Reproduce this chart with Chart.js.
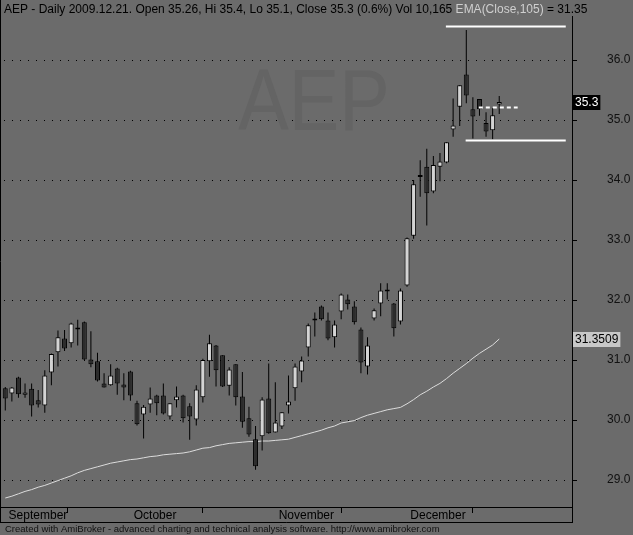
<!DOCTYPE html>
<html>
<head>
<meta charset="utf-8">
<script src="https://cdn.jsdelivr.net/npm/chart.js@4.4.1/dist/chart.umd.min.js"></script>
<style>
  html, body { margin: 0; padding: 0; background: #6b6b6b; }
  canvas { display: block; }
</style>
</head>
<body>
<canvas id="chart" width="633" height="535"></canvas>
<script>
// AEP daily bars, 2009-09-03 .. 2009-12-21 (index = trading day)
const opens = [30.53,30.44,30.71,30.42,30.52,30.33,30.24,30.79,31.13,31.36,31.28,31.54,31.63,31.01,30.98,30.61,30.58,30.86,30.59,
  30.81,30.28,30.09,30.26,30.41,30.41,30.06,30.33,30.41,30.23,30.01,30.38,30.98,31.24,31.08,30.57,30.93,30.39,30.03,29.68,29.73,30.36,
  29.79,29.89,30.24,30.53,30.81,31.21,31.66,31.89,31.66,31.38,31.81,32.01,31.89,31.51,30.89,31.69,31.94,32.16,31.94,
  31.64,32.24,33.07,34.07,34.22,33.81,34.22,34.29,34.84,35.22,35.76,35.18,35.35,34.95,34.83,35.26]
const highs = [30.55,30.55,30.72,30.61,30.61,30.50,30.83,31.11,31.49,31.50,31.62,31.67,31.64,31.48,31.12,30.78,30.93,30.87,30.78,
  30.82,30.32,30.25,30.54,30.42,30.61,30.28,30.56,30.42,30.28,30.58,31.02,31.42,31.25,31.08,30.88,30.93,30.80,30.22,29.90,30.38,30.94,
  30.63,30.13,30.74,30.94,31.06,31.61,31.79,31.91,31.79,31.66,32.11,32.09,31.98,31.54,31.38,31.86,32.28,32.28,31.95,
  32.19,33.04,34.00,34.33,34.52,34.40,34.45,34.63,35.36,35.58,36.50,35.38,35.35,35.13,35.20,35.40]
const lows = [30.16,30.31,30.37,30.37,30.06,30.21,30.12,30.58,30.89,31.15,31.21,31.24,31.00,30.88,30.64,30.54,30.57,30.42,30.33,
  30.32,29.91,29.69,30.12,30.08,30.09,30.01,30.21,29.96,29.67,29.91,30.29,30.72,30.56,30.55,30.41,30.24,29.87,29.72,29.17,29.49,29.77,
  29.79,29.85,30.11,30.32,30.63,31.06,31.39,31.66,31.33,31.21,31.68,31.84,31.59,30.78,30.76,31.66,31.73,32.01,31.39,
  31.59,32.22,33.02,33.72,33.24,33.78,33.98,34.28,34.72,34.90,35.28,34.69,35.07,34.72,34.68,35.10]
const closes = [30.36,30.54,30.43,30.46,30.24,30.26,30.74,31.10,31.38,31.19,31.61,31.51,31.01,30.93,30.66,30.54,30.74,30.61,30.54,
  30.41,29.93,30.22,30.36,30.28,30.11,30.28,30.39,30.03,30.06,30.51,31.00,31.28,30.83,30.56,30.84,30.38,29.97,29.76,29.23,30.34,29.78,
  29.96,30.13,30.31,30.89,30.99,31.58,31.69,31.68,31.36,31.59,32.09,31.93,31.63,30.96,31.24,31.83,32.16,32.14,31.53,
  32.16,33.03,33.93,34.05,33.78,34.25,34.31,34.63,34.91,35.58,35.41,35.06,35.18,34.81,35.08,35.30]
// EMA(Close,105)
const ema = [28.70,28.73,28.77,28.81,28.84,28.88,28.91,28.95,28.99,29.03,29.07,29.12,29.16,29.19,29.22,29.25,29.28,29.30,29.32,
  29.34,29.35,29.37,29.39,29.40,29.42,29.43,29.44,29.45,29.47,29.50,29.53,29.54,29.57,29.59,29.61,29.62,29.63,29.64,29.64,29.65,29.65,
  29.66,29.67,29.68,29.71,29.74,29.77,29.80,29.83,29.87,29.90,29.95,29.97,29.99,30.04,30.08,30.11,30.14,30.17,30.19,
  30.21,30.27,30.34,30.42,30.48,30.55,30.61,30.69,30.78,30.86,30.94,31.03,31.11,31.18,31.25,31.35]

const monthStarts = [0, 19, 41, 61]
const monthNames = ['September', 'October', 'November', 'December']
const yTicks = [29, 30, 31, 32, 33, 34, 35, 36]

// drawn study lines: [x from, x to, price]
const highLine = [66.9, 85.1, 36.56]
const lowLine = [69.9, 85.1, 34.66]
const midLine = [71.9, 77.8, 35.21]

const titleText = 'AEP - Daily 2009.12.21. Open 35.26, Hi 35.4, Lo 35.1, Close 35.3 (0.6%) Vol 10,165 '
const emaName = 'EMA(Close,105)'
const emaValue = 31.3509
const footerText = 'Created with AmiBroker - advanced charting and technical analysis software. http://www.amibroker.com'

const FONT = '"Liberation Sans", Arial, sans-serif'
const BG = '#6b6b6b'
const LIGHT = '#d4d4d4', DARK = '#2c2c2c'

const lineSet = (l, dash) => ({
	type: 'line', order: 0,
	data: [{ x: l[0], y: l[2] }, { x: l[1], y: l[2] }],
	borderColor: '#ffffff', borderWidth: 2, borderDash: dash,
	pointRadius: 0
})

const decor = {
	id: 'decor',
	beforeDatasetsDraw(chart) {
		const ctx = chart.ctx
		ctx.save()
		ctx.font = '88px ' + FONT
		ctx.fillStyle = '#646464'
		ctx.textAlign = 'center'
		ctx.translate(314, 130)
		ctx.scale(0.86, 1)
		ctx.fillText('AEP', 0, 0)
		ctx.restore()
	},
	afterDraw(chart) {
		const ctx = chart.ctx
		const a = chart.chartArea
		const y = chart.scales.y
		ctx.save()
		// frame
		ctx.strokeStyle = '#000'
		ctx.lineWidth = 1
		ctx.beginPath()
		ctx.moveTo(0.5, 0); ctx.lineTo(0.5, 523)
		ctx.moveTo(0, 522.5); ctx.lineTo(572.5, 522.5)
		ctx.moveTo(572.5, a.bottom); ctx.lineTo(572.5, 523)
		ctx.stroke()
		// title (on its own strip, over the axis line)
		ctx.font = '12px ' + FONT
		ctx.textBaseline = 'alphabetic'
		const w1 = ctx.measureText(titleText).width
		const w2 = ctx.measureText(emaName).width
		const w3 = ctx.measureText(' = ' + emaValue.toFixed(2)).width
		ctx.fillStyle = BG
		ctx.fillRect(2, 0, w1 + w2 + w3 + 4, 16)
		ctx.fillStyle = '#000'
		ctx.fillText(titleText, 4, 13)
		ctx.fillStyle = '#cfcfcf'
		ctx.fillText(emaName, 4 + w1, 13)
		ctx.fillStyle = '#000'
		ctx.fillText(' = ' + emaValue.toFixed(2), 4 + w1 + w2, 13)
		// value boxes on the axis
		const box = (v, txt, bg, fg) => {
			const py = Math.round(y.getPixelForValue(v))
			const w = ctx.measureText(txt).width + 4
			ctx.fillStyle = bg
			ctx.fillRect(573, py - 7, w, 15)
			ctx.fillStyle = fg
			ctx.textBaseline = 'middle'
			ctx.fillText(txt, 575, py + 1)
		}
		box(closes[closes.length - 1], closes[closes.length - 1].toFixed(1), '#000', '#fff')
		box(emaValue, emaValue.toFixed(4), '#c8c8c8', '#000')
		// footer
		ctx.font = '9.5px ' + FONT
		ctx.textBaseline = 'alphabetic'
		ctx.fillStyle = '#111'
		ctx.fillText(footerText, 5, 532)
		ctx.restore()
	}
}

new Chart(document.getElementById('chart'), {
	type: 'bar',
	data: {
		datasets: [
			{
				type: 'line', order: 3,
				data: ema.map((v, i) => ({ x: i, y: v })),
				borderColor: '#dcdcdc', borderWidth: 1, pointRadius: 0
			},
			{
				order: 2, grouped: false,
				data: lows.map((v, i) => ({ x: i, y: [v, highs[i]] })),
				backgroundColor: '#000', borderWidth: 0, barThickness: 1, inflateAmount: 0
			},
			{
				order: 1, grouped: false,
				data: opens.map((v, i) => ({ x: i, y: [v, closes[i]] })),
				backgroundColor: opens.map((v, i) => closes[i] >= v ? LIGHT : DARK),
				borderColor: '#000', borderWidth: 1, borderSkipped: false,
				barThickness: 5, minBarLength: 2, inflateAmount: 0
			},
			lineSet(highLine, []),
			lineSet(lowLine, []),
			lineSet(midLine, [4, 3])
		]
	},
	options: {
		responsive: false,
		animation: false,
		layout: { padding: { left: 1, right: 0, top: 0, bottom: 12 } },
		plugins: { legend: { display: false }, tooltip: { enabled: false } },
		scales: {
			x: {
				type: 'linear', min: -0.65, max: 86.05, offset: false,
				afterBuildTicks: s => { s.ticks = monthStarts.map(v => ({ value: v })) },
				afterFit: s => { s.height = 16; s.paddingLeft = 0; s.paddingRight = 0 },
				ticks: {
					callback: (v, i) => ' ' + monthNames[i],
					align: 'start', maxRotation: 0, autoSkip: false, padding: -5,
					color: '#000', font: { family: FONT, size: 12 }
				},
				grid: { drawOnChartArea: false, drawTicks: true, tickLength: 6, tickColor: '#000', color: '#000' },
				border: { color: '#000', width: 1 }
			},
			y: {
				position: 'right', min: 28.55, max: 37.0,
				afterBuildTicks: s => { s.ticks = yTicks.map(v => ({ value: v })) },
				afterFit: s => { s.width = 61; s.paddingTop = 0; s.paddingBottom = 0 },
				ticks: {
					callback: v => v.toFixed(1), padding: 30, crossAlign: 'near',
					color: '#111', font: { family: FONT, size: 12 }
				},
				grid: { color: '#000', lineWidth: 1, drawTicks: true, tickLength: 5, tickColor: '#000' },
				border: { color: '#000', width: 1, dash: [1, 7], dashOffset: -3 }
			}
		}
	},
	plugins: [decor]
})
</script>
</body>
</html>
